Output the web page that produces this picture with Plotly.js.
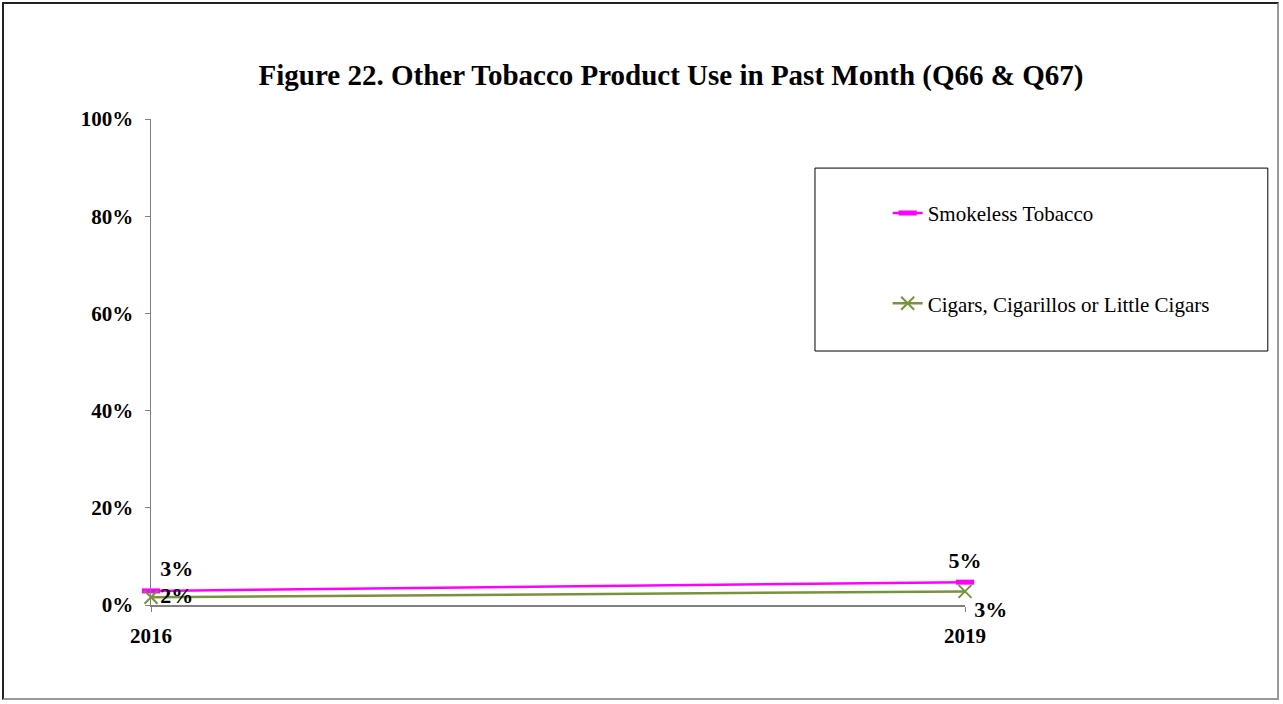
<!DOCTYPE html>
<html>
<head>
<meta charset="utf-8">
<script src="https://cdn.plot.ly/plotly-3.0.1.min.js"></script>
<style>
html,body{margin:0;padding:0;background:#fff;}
#wrap{position:absolute;left:2px;top:2px;width:1277px;height:698px;border:2px solid #222;border-right-color:#999;border-bottom-color:#999;box-sizing:border-box;}
#chart{position:absolute;left:0;top:0;width:1283px;height:704px;}
</style>
</head>
<body>
<div id="chart"></div>
<div id="wrap"></div>
<script>
const years = [2016, 2019];
const smokeless = [2.9, 4.7];
const cigars = [1.6, 2.8];
const smokelessLabels = ['3%', '5%'];
const cigarsLabels = ['2%', '3%'];
const seriesNames = ['Smokeless Tobacco', 'Cigars, Cigarillos or Little Cigars'];
const yTicks = [0, 20, 40, 60, 80, 100];

const serif = 'Liberation Serif, Times New Roman, serif';

const traces = [
  {
    x: years, y: smokeless, name: seriesNames[0], type: 'scatter',
    mode: 'lines+markers+text',
    text: smokelessLabels,
    textposition: ['top right', 'top center'],
    textfont: {family: serif, size: 22, color: '#000', weight: 'bold'},
    line: {color: '#FF00FF', width: 2.5},
    marker: {symbol: 'line-ew-open', size: 13, line: {color: '#FF00FF', width: 5}},
    legendgroup: 'a', cliponaxis: false
  },
  {
    x: years, y: cigars, name: seriesNames[1], type: 'scatter',
    mode: 'lines+markers+text',
    text: cigarsLabels,
    textposition: ['middle right', 'bottom right'],
    textfont: {family: serif, size: 22, color: '#000', weight: 'bold'},
    line: {color: '#77933C', width: 2.5},
    marker: {symbol: 'x-thin-open', size: 13, line: {color: '#77933C', width: 2}},
    legendgroup: 'b', cliponaxis: false
  }
];

const layout = {
  width: 1283, height: 704,
  margin: {l: 151, r: 318, t: 119, b: 99},
  paper_bgcolor: '#fff', plot_bgcolor: '#fff',
  title: {
    text: '<b>Figure 22. Other Tobacco Product Use in Past Month (Q66 & Q67)</b>',
    font: {family: serif, size: 29, color: '#000'},
    x: 0.523, xanchor: 'center', y: 0.893, yanchor: 'middle'
  },
  xaxis: {
    range: [2016, 2019], tickvals: years, ticktext: years.map(String),
    showline: true, linecolor: '#808080', linewidth: 1.5,
    ticks: 'outside', ticklen: 5, tickcolor: '#808080',
    ticklabelstandoff: 6,
    showgrid: false, zeroline: false,
    tickfont: {family: serif, size: 21, color: '#000', weight: 'bold'}
  },
  yaxis: {
    range: [0, 100], tickvals: yTicks, ticktext: yTicks.map(v => v + '%'),
    showline: true, linecolor: '#808080', linewidth: 1.5,
    ticks: 'outside', ticklen: 5, tickcolor: '#808080',
    ticklabelstandoff: 7,
    showgrid: false, zeroline: false,
    tickfont: {family: serif, size: 21, color: '#000', weight: 'bold'}
  },
  showlegend: true,
  legend: {
    x: 0.905, xanchor: 'left', y: 0.848, yanchor: 'top',
    bgcolor: 'rgba(0,0,0,0)', borderwidth: 0,
    font: {family: serif, size: 21, color: '#000'},
    traceorder: 'grouped', tracegroupgap: 60
  },
  shapes: [
    {type: 'rect', xref: 'paper', yref: 'paper', x0: 0.8157, x1: 1.372, y0: 0.5226, y1: 0.899,
     line: {color: '#000', width: 1}, fillcolor: 'rgba(0,0,0,0)', layer: 'below'}
  ]
};

Plotly.newPlot('chart', traces, layout, {displayModeBar: false, staticPlot: true});
</script>
</body>
</html>
